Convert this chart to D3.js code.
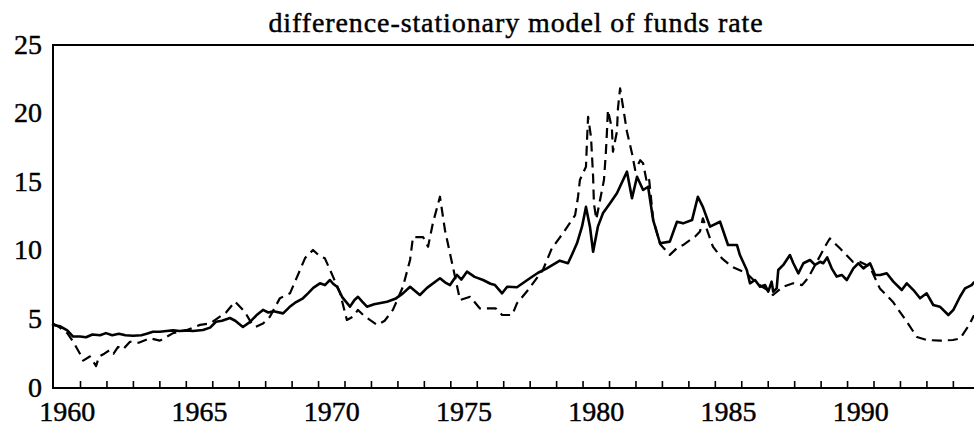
<!DOCTYPE html>
<html>
<head>
<meta charset="utf-8">
<script src="https://cdn.jsdelivr.net/npm/d3@7"></script>
<style>
  body { margin: 0; background: #fff; }
  text { font-family: "Liberation Serif", "DejaVu Serif", serif; fill: #000; stroke: #000; stroke-width: 0.45px; }
</style>
</head>
<body>
<script>

var title = "difference-stationary model of funds rate";

var yearLabels = [1960, 1965, 1970, 1975, 1980, 1985, 1990];
var yTicks = [0, 5, 10, 15, 20, 25];

// solid line
var solidYears = [1959.46, 1959.72, 1960.00, 1960.22, 1960.48, 1960.71, 1960.95, 1961.24, 1961.46, 1961.70,
  1961.95, 1962.20, 1962.48, 1962.80, 1963.00, 1963.24, 1963.50, 1963.75, 1964.00, 1964.25,
  1964.49, 1964.75, 1965.13, 1965.40, 1965.62, 1965.85, 1966.15, 1966.35, 1966.64, 1966.90,
  1967.15, 1967.40, 1967.60, 1967.80, 1968.16, 1968.40, 1968.60, 1968.91, 1969.10, 1969.30,
  1969.55, 1969.74, 1969.93, 1970.05, 1970.20, 1970.40, 1970.69, 1970.85, 1970.99, 1971.15,
  1971.33, 1971.60, 1972.09, 1972.40, 1972.69, 1972.96, 1973.07, 1973.33, 1973.60, 1974.09,
  1974.28, 1974.47, 1974.73, 1974.90, 1975.11, 1975.40, 1975.72, 1976.00, 1976.17, 1976.44,
  1976.63, 1977.00, 1977.49, 1977.80, 1978.13, 1978.62, 1978.93, 1979.10, 1979.27, 1979.46,
  1979.61, 1979.76, 1979.88, 1980.06, 1980.25, 1980.52, 1980.78, 1981.16, 1981.35, 1981.54,
  1981.77, 1981.96, 1982.15, 1982.41, 1982.78, 1983.05, 1983.28, 1983.62, 1983.84, 1984.03,
  1984.30, 1984.68, 1984.98, 1985.32, 1985.43, 1985.69, 1985.81, 1986.00, 1986.19, 1986.38,
  1986.50, 1986.63, 1986.69, 1986.82, 1986.88, 1987.07, 1987.32, 1987.45, 1987.64, 1987.83,
  1988.08, 1988.27, 1988.46, 1988.58, 1988.73, 1988.90, 1989.09, 1989.28, 1989.47, 1989.72,
  1989.91, 1990.10, 1990.35, 1990.54, 1990.73, 1990.98, 1991.23, 1991.55, 1991.74, 1991.99,
  1992.24, 1992.49, 1992.74, 1992.99, 1993.31, 1993.50, 1993.75, 1993.94, 1994.19, 1994.28];
var solidRates = [4.6, 4.5, 4.2, 3.75, 3.75, 3.7, 3.9, 3.85, 4.0, 3.85,
  3.95, 3.85, 3.81, 3.85, 3.95, 4.1, 4.1, 4.15, 4.2, 4.15,
  4.2, 4.15, 4.23, 4.4, 4.83, 4.9, 5.1, 4.9, 4.45, 4.8,
  5.3, 5.69, 5.5, 5.6, 5.44, 5.9, 6.2, 6.54, 6.9, 7.3,
  7.63, 7.5, 7.87, 7.6, 7.38, 6.6, 5.93, 6.4, 6.65, 6.3,
  5.93, 6.1, 6.29, 6.5, 6.9, 7.38, 7.2, 6.78, 7.3, 8.0,
  7.7, 7.5, 8.24, 7.9, 8.48, 8.1, 7.87, 7.6, 7.5, 6.9,
  7.38, 7.34, 8.0, 8.4, 8.72, 9.28, 9.09, 9.8, 10.55, 11.76,
  13.2, 11.76, 9.93, 11.76, 12.73, 13.46, 14.19, 15.77, 13.83, 15.4,
  14.43, 14.67, 12.24, 10.55, 10.67, 12.12, 12.0, 12.24, 13.94, 13.2,
  11.76, 12.12, 10.42, 10.42, 9.69, 8.6, 7.63, 7.87, 7.38, 7.5,
  7.02, 7.75, 7.02, 7.26, 8.6, 8.97, 9.69, 9.09, 8.36, 9.09,
  9.33, 8.97, 9.2, 9.09, 9.52, 8.72, 8.12, 8.24, 7.87, 8.72,
  9.09, 8.72, 9.09, 8.24, 8.24, 8.36, 7.75, 7.14, 7.63, 7.14,
  6.54, 6.9, 6.05, 5.93, 5.32, 5.69, 6.65, 7.26, 7.5, 7.7];

// dashed line
var dashedYears = [1959.46, 1959.72, 1960.00, 1960.22, 1960.48, 1960.60, 1960.85, 1961.09, 1961.20, 1961.40,
  1961.61, 1961.75, 1961.92, 1962.10, 1962.37, 1962.70, 1963.13, 1963.50, 1964.00, 1964.50,
  1965.02, 1965.40, 1965.77, 1966.00, 1966.34, 1966.71, 1967.00, 1967.13, 1967.40, 1967.66,
  1968.04, 1968.42, 1968.80, 1968.99, 1969.29, 1969.55, 1969.74, 1970.05, 1970.30, 1970.57,
  1970.80, 1970.99, 1971.20, 1971.44, 1971.71, 1972.00, 1972.31, 1972.69, 1972.96, 1973.07,
  1973.45, 1973.64, 1973.82, 1974.09, 1974.28, 1974.47, 1974.66, 1974.85, 1975.23, 1975.60,
  1975.87, 1976.20, 1976.44, 1976.82, 1977.00, 1977.42, 1977.98, 1978.32, 1978.74, 1979.20,
  1979.31, 1979.38, 1979.61, 1979.65, 1979.69, 1979.80, 1979.84, 1979.88, 1979.91, 1980.00,
  1980.29, 1980.36, 1980.40, 1980.44, 1980.59, 1980.63, 1980.78, 1980.82, 1980.90, 1981.01,
  1981.16, 1981.35, 1981.47, 1981.66, 1981.77, 1981.92, 1982.00, 1982.15, 1982.41, 1982.78,
  1983.05, 1983.28, 1983.73, 1983.92, 1984.03, 1984.41, 1984.75, 1985.13, 1985.69, 1986.07,
  1986.57, 1986.68, 1987.06, 1987.44, 1987.78, 1988.00, 1988.72, 1988.83, 1989.21, 1989.70,
  1989.96, 1990.34, 1990.72, 1991.21, 1991.74, 1992.12, 1992.50, 1993.00, 1993.48, 1993.75,
  1994.10, 1994.28];
var dashedRates = [4.7, 4.4, 4.0, 3.38, 2.5, 2.0, 2.3, 1.6, 2.3, 2.5,
  2.77, 2.5, 3.0, 2.8, 3.37, 3.3, 3.62, 3.45, 4.0, 4.2,
  4.6, 4.7, 5.2, 5.5, 6.3, 5.56, 4.6, 4.47, 4.7, 5.2,
  6.55, 6.9, 8.6, 9.47, 10.06, 9.6, 9.45, 8.1, 7.0, 4.96,
  5.2, 5.69, 5.3, 4.96, 4.6, 4.9, 5.69, 7.38, 9.33, 11.0,
  11.0, 10.3, 12.0, 13.94, 11.5, 9.8, 8.1, 6.41, 6.65, 5.8,
  5.8, 5.8, 5.32, 5.32, 6.17, 7.14, 8.6, 10.18, 11.28, 12.6,
  13.94, 15.16, 16.13, 18.08, 19.77, 18.3, 16.86, 15.4, 13.46, 12.3,
  15.16, 17.1, 18.56, 20.26, 18.93, 17.22, 18.68, 20.4, 21.84, 20.5,
  18.68, 17.1, 15.89, 16.6, 16.38, 14.9, 15.16, 12.3, 10.5, 9.7,
  10.2, 10.42, 11.03, 11.4, 12.37, 10.3, 9.45, 8.84, 8.36, 7.63,
  7.02, 6.78, 7.38, 7.63, 7.5, 8.0, 10.55, 10.9, 10.18, 9.2,
  9.2, 8.84, 7.26, 6.29, 4.83, 3.72, 3.5, 3.45, 3.5, 3.6,
  4.6, 5.3];

var width = 974, height = 429;
var margin = { top: 45, right: 0, bottom: 41, left: 53 };

var svg = d3.select("body")
  .append("svg")
  .attr("width", width)
  .attr("height", height);

var xScale = d3.scaleLinear()
  .domain([1959.46, 1994.28])
  .range([margin.left, width - margin.right]);

var yScale = d3.scaleLinear()
  .domain([0, 25])
  .range([height - margin.bottom, margin.top]);

var y0 = yScale(0);

// frame: left, top, bottom
svg.append("path")
  .attr("d", "M" + width + "," + margin.top + "H" + margin.left + "V" + y0 + "H" + width)
  .attr("fill", "none")
  .attr("stroke", "#000")
  .attr("stroke-width", 2);

// minor ticks, one per year, pointing up from the bottom axis
var tickYears = d3.range(1960, 1994).map(function(y) { return y + 0.5; });
svg.append("g")
  .selectAll("line")
  .data(tickYears)
  .enter().append("line")
  .attr("x1", function(d) { return xScale(d); })
  .attr("x2", function(d) { return xScale(d); })
  .attr("y1", y0)
  .attr("y2", y0 - 7)
  .attr("stroke", "#000")
  .attr("stroke-width", 1.6);

svg.append("g")
  .selectAll("text")
  .data(yearLabels)
  .enter().append("text")
  .attr("x", function(d) { return xScale(d); })
  .attr("y", 421)
  .attr("text-anchor", "middle")
  .style("font-size", "28px")
  .text(function(d) { return d; });

svg.append("g")
  .selectAll("text")
  .data(yTicks)
  .enter().append("text")
  .attr("x", 42)
  .attr("y", function(d) { return yScale(d) - 1; })
  .attr("dy", "0.34em")
  .attr("text-anchor", "end")
  .style("font-size", "28px")
  .text(function(d) { return d; });

svg.append("text")
  .attr("x", 516)
  .attr("y", 32)
  .attr("text-anchor", "middle")
  .style("font-size", "28px")
  .style("letter-spacing", "0.9px")
  .text(title);

var line = d3.line()
  .x(function(d) { return xScale(d[0]); })
  .y(function(d) { return yScale(d[1]); });

var solid = d3.zip(solidYears, solidRates);
var dashed = d3.zip(dashedYears, dashedRates);

svg.append("path")
  .datum(dashed)
  .attr("d", line)
  .attr("fill", "none")
  .attr("stroke", "#000")
  .attr("stroke-width", 2.2)
  .attr("stroke-dasharray", "10,6")
  .attr("stroke-linejoin", "round");

svg.append("path")
  .datum(solid)
  .attr("d", line)
  .attr("fill", "none")
  .attr("stroke", "#000")
  .attr("stroke-width", 2.6)
  .attr("stroke-linejoin", "round")
  .attr("stroke-linecap", "round");

</script>
</body>
</html>
